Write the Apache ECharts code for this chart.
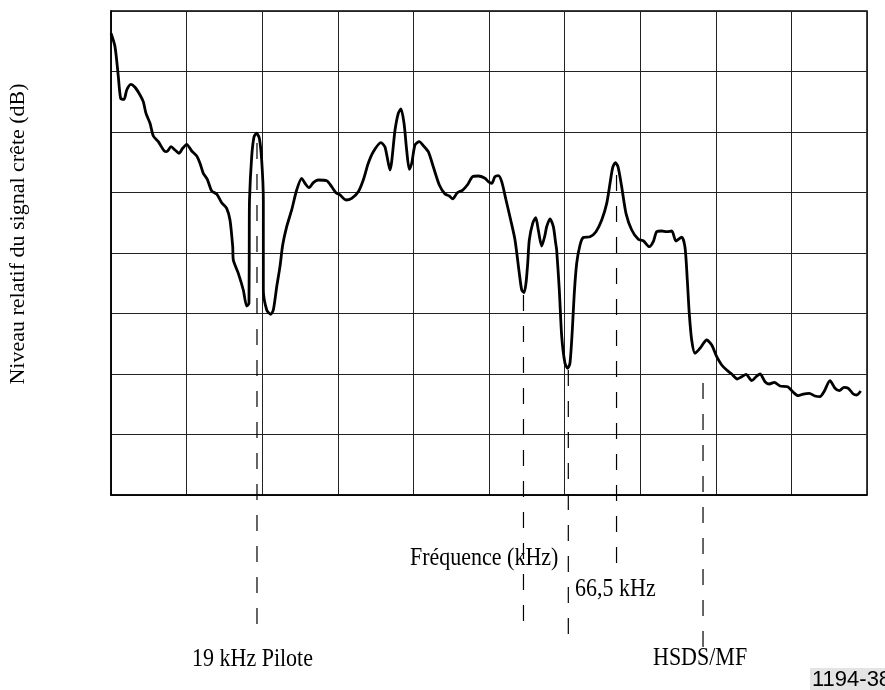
<!DOCTYPE html>
<html>
<head>
<meta charset="utf-8">
<script src="https://cdn.jsdelivr.net/npm/echarts@6/dist/echarts.min.js"></script>
<style>
html,body{margin:0;padding:0;background:#fff;}
#chart{width:885px;height:690px;}
</style>
</head>
<body>
<div id="chart"></div>
<script>
// Frequency position (relative units 0-100 across the 10 grid columns)
var freq = [0,0.53,0.97,1.28,1.72,2.08,2.61,3.17,3.84,4.27,4.63,5.16,5.60,6.26,7.01,7.37,7.94,8.47,8.99,9.48,10.01,10.67,11.34,11.77,12.21,12.74,13.32,13.98,14.64,15.30,15.74,16.10,16.18,16.84,17.50,17.95,18.25,18.29,18.32,18.61,18.92,19.27,19.62,19.93,20.15,20.15,20.15,20.60,21.12,21.47,21.92,22.35,22.71,23.24,23.90,24.56,25.22,25.66,26.19,26.76,27.42,28.53,29.19,29.76,30.29,31.08,31.84,32.71,33.37,34.03,34.70,35.71,36.24,36.90,37.57,38.00,38.36,38.76,39.11,39.46,39.78,40.21,40.78,41.31,41.97,42.63,43.43,44.18,44.75,45.20,45.81,46.52,47.13,47.84,48.58,49.47,49.91,50.36,50.79,51.23,51.68,52.25,52.87,53.44,54.01,54.33,54.63,54.89,55.12,55.33,55.78,56.18,56.52,56.97,57.41,57.63,58.07,58.51,58.82,58.95,59.30,59.62,60.05,60.41,60.71,61.02,61.28,61.60,62.04,62.47,63.36,64.15,64.91,65.57,66.01,66.36,66.71,67.06,67.55,68.12,68.88,69.75,70.41,71.20,71.73,72.18,72.84,73.51,74.17,74.74,75.49,75.93,76.23,76.49,76.81,77.25,77.91,78.80,79.46,80.12,80.78,81.44,82.10,82.84,83.43,84.00,84.75,85.32,85.85,86.51,87.08,87.74,88.49,89.51,90.25,90.91,91.57,92.37,93.12,93.78,94.31,95.11,95.77,96.34,96.96,97.53,98.19,98.64,99.17];
// Relative peak signal level (grid units 0-80)
var level = [76.31,74.10,69.14,65.57,65.40,66.94,67.88,67.39,66.12,65.01,63.09,61.44,59.34,58.40,56.91,56.74,57.57,57.02,56.48,57.31,57.97,56.86,56.03,54.83,53.17,52.18,50.25,49.75,48.31,47.39,45.45,41.04,38.84,36.64,33.88,31.24,31.69,43.80,48.76,55.92,59.22,59.79,58.96,55.37,48.76,38.84,33.88,30.58,29.87,30.58,34.43,37.74,41.32,44.35,47.11,50.41,52.35,51.52,50.79,51.62,52.07,51.95,50.96,49.97,49.59,48.76,49.04,50.13,52.07,54.83,56.74,58.23,57.52,53.72,60.33,63.09,63.80,61.44,57.02,53.83,54.83,57.85,58.40,57.74,56.74,54.26,51.24,49.75,49.42,48.93,49.97,50.41,51.24,52.61,52.73,52.35,51.79,51.52,52.61,52.78,51.79,48.76,45.45,42.15,36.64,33.88,33.44,34.99,38.30,42.15,44.91,45.83,43.80,41.16,42.98,44.35,45.62,44.35,41.60,40.50,33.88,26.17,21.77,20.94,21.77,27.27,33.34,38.30,41.32,42.56,42.69,43.52,45.45,48.21,51.52,54.10,54.93,54.26,50.96,46.56,43.80,42.26,42.03,41.04,41.87,43.52,43.64,43.52,43.64,41.98,42.64,40.91,35.54,30.03,25.62,23.42,24.25,25.62,24.79,22.86,21.49,20.66,20.00,19.17,19.55,19.95,18.89,19.55,20.00,18.73,18.35,18.63,18.02,17.90,16.98,16.41,16.69,16.81,16.36,16.25,17.07,18.89,17.64,17.24,17.80,17.64,16.69,16.53,17.19];
// Dashed marker lines: position, top and bottom level
var markerFreq = [19.31, 54.56, 60.49, 66.87, 78.31];
var markerTop = [58.18, 33.06, 20.66, 52.89, 18.51];
var markerBottom = [-22.81, -22.64, -23.97, -12.89, -25.12];
var xTicks = [0,10,20,30,40,50,60,70,80,90,100];
var yTicks = [0,10,20,30,40,50,60,70,80];

var chart = echarts.init(document.getElementById('chart'), null, {renderer:'canvas'});
var curve = freq.map(function(f,i){return [f, level[i]];});
var series = [{
  type:'line', data:curve, showSymbol:false, smooth:0.25, animation:false, silent:true,
  lineStyle:{color:'#000', width:2.8}, z:5
}];
markerFreq.forEach(function(f,i){
  series.push({
    type:'line', data:[[f,markerTop[i]],[f,markerBottom[i]]], showSymbol:false,
    clip:false, animation:false, silent:true,
    lineStyle:{color:'#000', width:1.2, type:[16,15]}, z:4
  });
});
var serif = '"Liberation Serif","Times New Roman",serif';
var option = {
  backgroundColor:'#fff',
  animation:false,
  grid:{left:111, right:18, top:11, bottom:195, show:true, borderColor:'#000', borderWidth:1.5},
  xAxis:{type:'value', min:xTicks[0], max:xTicks[xTicks.length-1], interval:10,
    axisLine:{show:true, lineStyle:{color:'#000', width:1.5}}, axisTick:{show:false}, axisLabel:{show:false},
    splitLine:{show:true, lineStyle:{color:'#222', width:1}}},
  yAxis:{type:'value', min:yTicks[0], max:yTicks[yTicks.length-1], interval:10,
    axisLine:{show:true, lineStyle:{color:'#000', width:1.5}}, axisTick:{show:false}, axisLabel:{show:false},
    splitLine:{show:true, lineStyle:{color:'#222', width:1}}},
  graphic:[
    {type:'text', x:18, y:234, rotation:Math.PI/2, style:{text:'Niveau relatif du signal crête (dB)', font:'22px '+serif, fill:'#000', textAlign:'center', textVerticalAlign:'middle'}},
    {type:'text', x:410, y:571, scaleY:1.15, style:{text:'Fréquence (kHz)', font:'22px '+serif, fill:'#000', textAlign:'left', textVerticalAlign:'bottom'}},
    {type:'text', x:575, y:602, scaleY:1.15, style:{text:'66,5 kHz', font:'22px '+serif, fill:'#000', textAlign:'left', textVerticalAlign:'bottom'}},
    {type:'text', x:192, y:672, scaleY:1.15, style:{text:'19 kHz Pilote', font:'22px '+serif, fill:'#000', textAlign:'left', textVerticalAlign:'bottom'}},
    {type:'text', x:653, y:671, scaleY:1.15, style:{text:'HSDS/MF', font:'22px '+serif, fill:'#000', textAlign:'left', textVerticalAlign:'bottom'}},
    {type:'rect', shape:{x:810, y:668, width:75, height:22}, style:{fill:'#e4e4e4'}},
    {type:'text', x:812, y:691, style:{text:'1194-38', font:'22px "Liberation Sans",Arial,sans-serif', fill:'#000', textAlign:'left', textVerticalAlign:'bottom'}}
  ],
  series:series
};
chart.setOption(option);
</script>
</body>
</html>
